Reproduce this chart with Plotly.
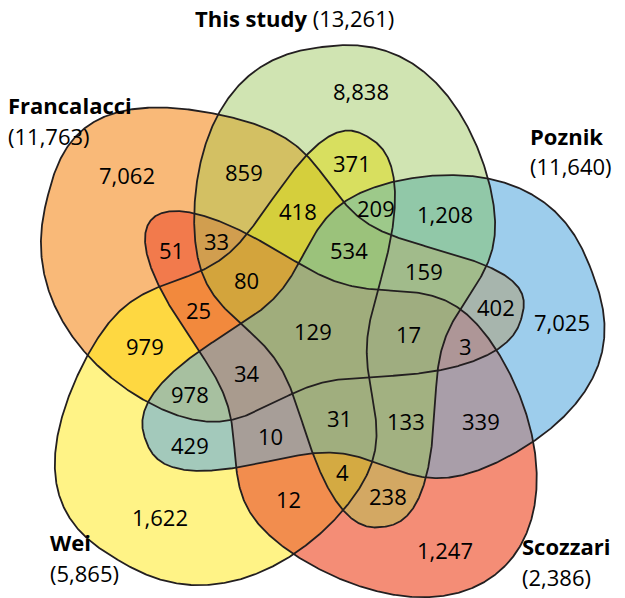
import numpy as np
import plotly.graph_objects as go

# ---------------- data ----------------
set_keys = ["T", "P", "S", "W", "F"]
set_names = ["This study", "Poznik", "Scozzari", "Wei", "Francalacci"]

region_sets = ["T", "P", "S", "W", "F",
               "TP", "PS", "SW", "WF", "FT",
               "SF", "FP", "PW", "WT", "TS",
               "SFT", "SFW", "WTF", "WTP", "FPT", "FPS", "PWF", "PWS", "TSP", "TSW",
               "SFTW", "WTFP", "FPTS", "PWFS", "TSPW",
               "TPSWF"]
region_counts = [8838, 7025, 1247, 1622, 7062,
                 1208, 339, 12, 979, 859,
                 51, 402, 429, 371, 238,
                 33, 25, 418, 209, 159, 3, 978, 10, 133, 4,
                 80, 534, 17, 34, 31,
                 129]

# ---------------- styles ----------------
region_colors = {
    "T": "#d0e4b2", "P": "#9dcdec", "S": "#f48d76", "W": "#fff386", "F": "#f9b978",
    "TP": "#91c8a8", "PS": "#a99ea9", "SW": "#f28d4e", "WF": "#fed841", "FT": "#d3c063",
    "SF": "#f27a4c", "FP": "#a7b5ad", "PW": "#a3c9bb", "WT": "#d8df5f", "TS": "#d3a863",
    "SFT": "#d19e4f", "SFW": "#f2893d", "WTF": "#d5cf3c", "WTP": "#9dc98a", "FPT": "#a1bb8b",
    "FPS": "#ae9697", "PWF": "#a7c0a0", "PWS": "#a79e98", "TSP": "#a2b181", "TSW": "#d4aa42",
    "SFTW": "#d3a43c", "WTFP": "#9bc27b", "FPTS": "#9fad80", "PWFS": "#a99b8e", "TSPW": "#a0ae7e",
    "TPSWF": "#a0ad7c",
}
W_PX, H_PX = 625, 598
FONT = "Open Sans"
LINE_COLOR = "#231f20"

# shape geometry (layout only): tip end, lobe end, bend of the centre line, end bluntness
shape_geom = {
    "T": dict(tip=(383, 527), lobe=(322, 47), bend=0, p=2.4),
    "P": dict(tip=(146, 441), lobe=(592, 272), bend=-6, p=2.5),
    "S": dict(tip=(152, 219), lobe=(505, 566), bend=-5, p=2.0),
    "W": dict(tip=(368, 137), lobe=(118, 560), bend=-22, p=2.5),
    "F": dict(tip=(522, 316), lobe=(48, 195), bend=-33, p=2.5),
}
HALF_B, G0, G1, S0, TAU = 152.0, 0.48, 1.02, -0.1, 0.1


def frame(g):
    tip = np.array(g["tip"], float)
    lobe = np.array(g["lobe"], float)
    M = (tip + lobe) / 2
    v = lobe - tip
    L = np.hypot(*v)
    d = v / L
    n = np.array([-d[1], d[0]])
    return M, L / 2, d, n


def halfw(s, p):
    s = np.clip(s, -1, 1)
    base = np.clip(1 - np.abs(s) ** p, 0, None) ** (1 / p)
    gg = G0 + (G1 - G0) / (1 + np.exp(-(s - S0) / TAU))
    return HALF_B * base * gg


def outline(g, m=500):
    M, a, d, n = frame(g)
    t = np.linspace(0, np.pi, m)
    s = np.cos(t)
    w = halfw(s, g["p"])
    c = g["bend"] * (1 - s ** 2)
    up = M[None, :] + (a * s)[:, None] * d + (c + w)[:, None] * n
    sr = s[::-1]
    lo = M[None, :] + (a * sr)[:, None] * d + (c[::-1] - w[::-1])[:, None] * n
    pts = np.vstack([up, lo, up[:1]])
    return pts[:, 0], pts[:, 1]


def inside(g, X, Y):
    M, a, d, n = frame(g)
    dx = X - M[0]
    dy = Y - M[1]
    s = (dx * d[0] + dy * d[1]) / a
    q = dx * n[0] + dy * n[1]
    c = g["bend"] * (1 - np.clip(s, -1, 1) ** 2)
    return (np.abs(s) < 1) & (np.abs(q - c) < halfw(s, g["p"]))


bits = {k: 1 << i for i, k in enumerate(set_keys)}


def mask_of(key):
    return sum(bits[ch] for ch in key)


xs = np.arange(W_PX) + 0.5
ys = np.arange(H_PX) + 0.5
X, Y = np.meshgrid(xs, ys)
code = np.zeros(X.shape, dtype=np.int32)
for k in set_keys:
    code += inside(shape_geom[k], X, Y).astype(np.int32) * bits[k]

# colour scale by bitmask
cols = ["#ffffff"] * 32
for key in region_sets:
    cols[mask_of(key)] = region_colors[key]
cscale = []
for i, c in enumerate(cols):
    cscale.append([i / 32, c])
    cscale.append([(i + 1) / 32, c])


def label_pos(mask, gx, gy):
    pad = np.pad(mask, 1)
    interior = (pad[1:-1, 1:-1] & pad[:-2, 1:-1] & pad[2:, 1:-1]
                & pad[1:-1, :-2] & pad[1:-1, 2:])
    edge = mask & ~interior
    py, px = np.nonzero(mask)
    ey, ex = np.nonzero(edge)
    if len(py) == 0:
        return None
    Pp = np.c_[gx[px], gy[py]]
    E = np.c_[gx[ex], gy[ey]]
    best = np.full(len(Pp), np.inf)
    for i in range(0, len(E), 200):
        dd = (((Pp[:, None, 0] - E[None, i:i + 200, 0]) * 0.6) ** 2
              + (Pp[:, None, 1] - E[None, i:i + 200, 1]) ** 2).min(1)
        best = np.minimum(best, dd)
    dist = np.sqrt(best)
    cen = Pp.mean(0)
    score = dist - 0.25 * np.hypot(*(Pp - cen).T)
    return Pp[np.argmax(score)]


step = 3
gx = xs[::step]
gy = ys[::step]
code_c = code[::step, ::step]

fig = go.Figure()
fig.add_trace(go.Heatmap(z=code, x=xs, y=ys, zmin=-0.5, zmax=31.5,
                         colorscale=cscale, showscale=False, hoverinfo="skip",
                         zsmooth=False))
for k in set_keys:
    ox, oy = outline(shape_geom[k])
    fig.add_trace(go.Scatter(x=ox, y=oy, mode="lines",
                             line=dict(color=LINE_COLOR, width=1.8),
                             hoverinfo="skip"))

for key, v in zip(region_sets, region_counts):
    p = label_pos(code_c == mask_of(key), gx, gy)
    if p is None:
        continue
    fig.add_annotation(x=p[0], y=p[1], text=f"{v:,}", showarrow=False,
                       font=dict(family=FONT, size=22, color="black"))

totals = {k: sum(v for key, v in zip(region_sets, region_counts) if k in key)
          for k in set_keys}
name_of = dict(zip(set_keys, set_names))

# set titles
fig.add_annotation(x=294, y=18, xanchor="center",
                   text=f"<b>{name_of['T']}</b> ({totals['T']:,})", showarrow=False,
                   font=dict(family=FONT, size=22, color="black"))
title_pos = {"F": (6, 105, 136), "P": (528, 136, 166), "W": (48, 542, 573), "S": (520, 546, 577)}
for k, (x0, y1, y2) in title_pos.items():
    fig.add_annotation(x=x0, y=y1, xanchor="left", text=f"<b>{name_of[k]}</b>",
                       showarrow=False, font=dict(family=FONT, size=22, color="black"))
    fig.add_annotation(x=x0, y=y2, xanchor="left", text=f"({totals[k]:,})",
                       showarrow=False, font=dict(family=FONT, size=22, color="black"))

fig.update_layout(width=W_PX, height=H_PX, margin=dict(l=0, r=0, t=0, b=0),
                  paper_bgcolor="white", plot_bgcolor="white", showlegend=False,
                  xaxis=dict(range=[0, W_PX], visible=False, fixedrange=True),
                  yaxis=dict(range=[H_PX, 0], visible=False, fixedrange=True))
fig.write_html("out.html", config={"displayModeBar": False},
               post_script="document.body.style.margin='0px';")
